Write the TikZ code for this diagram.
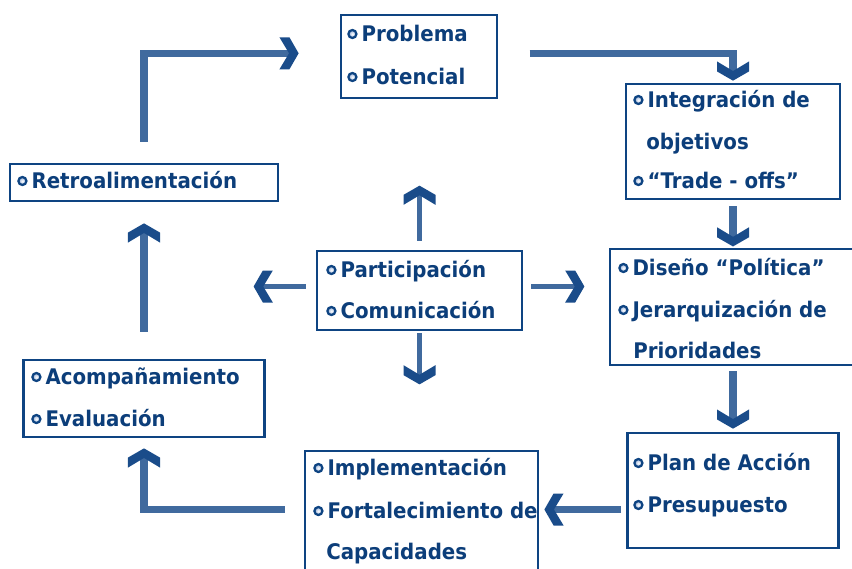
\documentclass[tikz,border=0pt]{standalone}
\usepackage{fontspec}
\setmainfont{DejaVu Sans}[FakeStretch=0.92]
\usetikzlibrary{arrows.meta, positioning}

\definecolor{azultexto}{RGB}{12,62,122}
\definecolor{azulcaja}{RGB}{14,68,130}
\definecolor{azulflecha}{RGB}{64,106,158}
\definecolor{azulpunta}{RGB}{26,76,138}
\definecolor{azulclaro}{RGB}{150,175,215}

% punta en forma de chevron
\pgfdeclarearrow{
  name = Chevron,
  parameters = {\the\pgfarrowlength,\the\pgfarrowwidth},
  setup code = {
    \pgfarrowssettipend{0pt}
    \pgfarrowssetlineend{-0.45\pgfarrowlength}
    \pgfarrowssetbackend{-\pgfarrowlength}
    \pgfarrowssetvisualbackend{-0.5\pgfarrowlength}
    \pgfarrowssavethe\pgfarrowlength
    \pgfarrowssavethe\pgfarrowwidth
  },
  drawing code = {
    \pgfpathmoveto{\pgfqpoint{0pt}{0pt}}
    \pgfpathlineto{\pgfqpoint{-0.48\pgfarrowlength}{0.5\pgfarrowwidth}}
    \pgfpathlineto{\pgfqpoint{-\pgfarrowlength}{0.5\pgfarrowwidth}}
    \pgfpathlineto{\pgfqpoint{-0.5\pgfarrowlength}{0pt}}
    \pgfpathlineto{\pgfqpoint{-\pgfarrowlength}{-0.5\pgfarrowwidth}}
    \pgfpathlineto{\pgfqpoint{-0.48\pgfarrowlength}{-0.5\pgfarrowwidth}}
    \pgfpathclose
    \pgfusepathqfill
  },
  defaults = {length = 14pt, width = 23pt}
}

\newcommand{\vin}{\tikz[baseline=0pt]\draw[line width=1.6pt, draw=azulcaja, inner color=white, outer color=azulclaro] (0,0.175cm) circle (0.1cm);\hspace{0.1cm}}

\tikzset{
  caja/.style={draw=azulcaja, line width=1.9pt, inner sep=0pt, fill=white},
  texto/.style={anchor=base west, inner sep=0pt, text=azultexto, font=\bfseries\fontsize{15.3}{18}\selectfont},
  flecha/.style={draw=azulflecha, line width=5pt, -{Chevron[length=0.48cm, width=0.8cm, color=azulpunta]}},
  flechac/.style={flecha, line width=3.2pt}
}

\begin{document}
\begin{tikzpicture}[x=0.025cm, y=-0.025cm]
\useasboundingbox (0,0) rectangle (852,568);
% cajas
\node[caja, minimum width=3.9cm, minimum height=2.075cm] (prob) at (419,56.5) {};
\node[caja, minimum width=5.35cm, minimum height=2.875cm] (integ) at (733,141.5) {};
\node[caja, minimum width=6.7cm, minimum height=0.925cm] (retro) at (144,182.5) {};
\node[caja, minimum width=5.125cm, minimum height=1.975cm] (partic) at (419.5,290.5) {};
\node[caja, minimum width=6.15cm, minimum height=2.9cm] (diseno) at (733,307) {};
\node[caja, minimum width=5.275cm, minimum height=2.875cm] (plan) at (733,490.5) {};
\node[caja, minimum width=5.825cm, minimum height=3.725cm] (implem) at (421.5,525.5) {};
\node[caja, minimum width=6.025cm, minimum height=1.925cm] (acomp) at (144,398.5) {};
% textos
\node[texto] (p1) at (347,41) {\vin Problema};
\node[texto] (p2) at (347,84) {\vin Potencial};
\node[texto] (i1) at (633,107) {\vin Integración de};
\node[texto] (i2) at (646,149) {objetivos};
\node[texto] (i3) at (633,188) {\vin “Trade - offs”};
\node[texto] (r1) at (17,188) {\vin Retroalimentación};
\node[texto] (c1) at (326,277) {\vin Participación};
\node[texto] (c2) at (326,318) {\vin Comunicación};
\node[texto] (d1) at (618,275) {\vin Diseño “Política”};
\node[texto] (d2) at (618,317) {\vin Jerarquización de};
\node[texto] (d3) at (633,358) {Prioridades};
\node[texto] (a1) at (633,470) {\vin Plan de Acción};
\node[texto] (a2) at (633,512) {\vin Presupuesto};
\node[texto] (m1) at (313,475) {\vin Implementación};
\node[texto] (m2) at (313,518) {\vin Fortalecimiento de};
\node[texto] (m3) at (326,559) {Capacidades};
\node[texto] (e1a) at (31,384) {\vin Acompañamiento};
\node[texto] (e2a) at (31,426) {\vin Evaluación};
% flechas del ciclo
\draw[flecha, shorten <=0.525cm, shorten >=1.025cm] (retro.north) |- ([yshift=0.08cm]prob.west);
\draw[flecha, shorten <=0.78cm, shorten >=0.05cm] ([yshift=0.08cm]prob.east) -| (integ.north);
\draw[flecha, shorten <=0.15cm, shorten >=0.03cm] (integ.south) -- (diseno.north);
\draw[flecha, shorten <=0.125cm, shorten >=0.075cm] (diseno.south) -- (plan.north);
\coordinate (e1) at ([yshift=-0.475cm]plan.west);
\draw[flecha, shorten <=0.125cm, shorten >=0.125cm] (e1) -- (e1 -| implem.east);
\coordinate (f1) at ([yshift=0.4cm]implem.west);
\draw[flecha, shorten <=0.475cm, shorten >=0.25cm] (f1) -| (acomp.south);
\draw[flecha, shorten <=0.675cm, shorten >=0.525cm] (acomp.north) -- (retro.south);
% flechas del centro
\coordinate[above=1.6cm of partic.north] (pu);
\coordinate[below=1.325cm of partic.south] (pd);
\coordinate (pw) at ([yshift=0.1cm]partic.west);
\coordinate (pe) at ([yshift=0.1cm]partic.east);
\coordinate[left=1.55cm of pw] (pl);
\coordinate[right=1.525cm of pe] (pr);
\draw[flechac, shorten <=0.225cm] (partic.north) -- (pu);
\draw[flechac, shorten <=0.05cm] (partic.south) -- (pd);
\draw[flechac, shorten <=0.25cm] (pw) -- (pl);
\draw[flechac, shorten <=0.2cm] (pe) -- (pr);
\end{tikzpicture}
\end{document}
